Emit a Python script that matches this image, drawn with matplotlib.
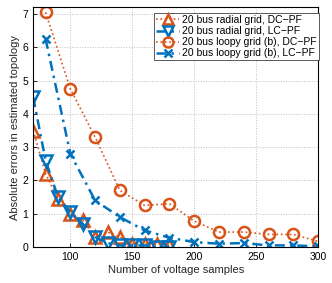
import matplotlib
matplotlib.use('Agg')
from matplotlib import pyplot as plt

# %% Data

xRad = [70,80,90,100,110,120,130,140,150,160,170,180]
radDC = [3.5,2.2,1.45,1.0,0.8,0.3,0.45,0.3,0.1,0.1,0.1,0.05]
radLC = [4.5,2.6,1.5,1.05,0.7,0.3,0.12,0.05,0.05,0.05,0.0,0.0]

xLoop = [80,100,120,140,160,180,200,220,240,260,280,300]
loopDC = [7.05,4.75,3.3,1.7,1.25,1.3,0.78,0.45,0.45,0.38,0.38,0.17]
loopLC = [6.25,2.8,1.4,0.9,0.5,0.28,0.15,0.1,0.12,0.05,0.05,0.02]

labels = ['20 bus radial grid, DC\u2212PF','20 bus radial grid, LC\u2212PF',
          '20 bus loopy grid (b), DC\u2212PF','20 bus loopy grid (b), LC\u2212PF']

red = '#D95319'
blue = '#0072BD'

# %% Plot

plt.rcParams['font.family'] = ['Liberation Sans','DejaVu Sans']
fig = plt.figure(figsize=(3.32,2.83),dpi=100)
ax = fig.add_axes([0.1,0.127,0.858,0.847])

dashdot = (0,(4,2,1,2))
ax.plot(xRad,radDC,':',color=red,lw=1.2,marker='^',ms=8,mfc='none',mew=1.8,label=labels[0])
ax.plot(xRad,radLC,ls=dashdot,color=blue,lw=1.8,marker='v',ms=8,mfc='none',mew=1.8,label=labels[1])
ax.plot(xLoop,loopDC,':',color=red,lw=1.2,marker='o',ms=8,mfc='none',mew=1.8,label=labels[2])
ax.plot(xLoop,loopLC,ls=dashdot,color=blue,lw=1.8,marker='x',ms=6,mew=1.8,label=labels[3])

ax.set_xlim(70,300)
ax.set_ylim(0,7.2)
ax.set_xticks([100,150,200,250,300])
ax.set_yticks(range(8))
ax.tick_params(labelsize=7.5,direction='in',length=3,width=0.6)
ax.grid(ls=':',color='#c0c0c0',lw=0.7)
for s in ax.spines.values(): s.set_linewidth(0.8)

ax.set_xlabel('Number of voltage samples',fontsize=8,labelpad=2,color='#262626')
ax.set_ylabel('Absolute errors in estimated topology',fontsize=8,labelpad=2,color='#262626')

leg = ax.legend(loc='upper right',bbox_to_anchor=(1.01,0.985),fontsize=7.5,fancybox=False,
                framealpha=1,edgecolor='#404040',borderpad=0.2,labelspacing=0.1,
                handlelength=2.2,handletextpad=0.3,borderaxespad=0.2,markerscale=0.9)
leg.get_frame().set_linewidth(0.6)

fig.savefig('out.png',dpi=100)
